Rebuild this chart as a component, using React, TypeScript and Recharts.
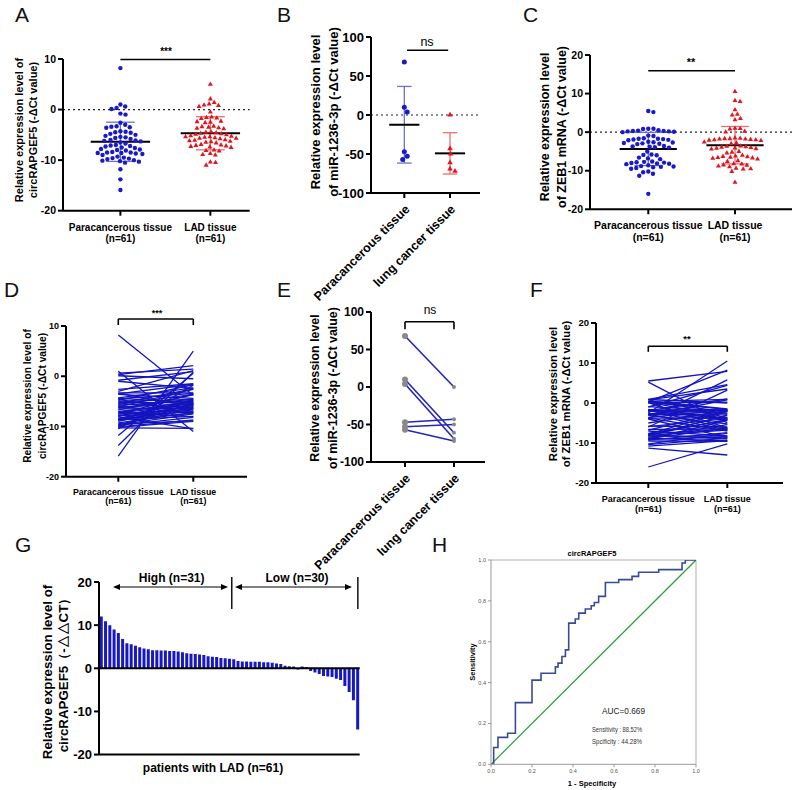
import React from 'react';
import { ComposedChart, BarChart, Bar, Scatter, Line, XAxis, YAxis, ReferenceLine } from 'recharts';

const FONT = '"Liberation Sans", Arial, Helvetica, sans-serif';

// ---------------- data ----------------
const groupLabels = ['Paracancerous tissue', 'LAD tissue'];
const groupN = ['(n=61)', '(n=61)'];
const mirLabels = ['Paracancerous tissue', 'lung cancer tissue'];

// circRAPGEF5 -ΔCt, paired (index i = same patient)
const circPara = [8.2, 1.0, 0.6, 0.3, 0.1, -0.8, -1.0, -2.6, -3.0, -3.3, -3.4, -3.5, -3.6, -4.3, -4.4, -4.5, -4.6, -4.8, -5.0, -5.2, -5.4, -5.5, -5.6, -5.8, -6.0, -6.1, -6.2, -6.3, -6.5, -6.7, -7.0, -7.1, -7.2, -7.3, -7.5, -7.6, -7.8, -7.9, -8.0, -8.1, -8.4, -8.5, -8.5, -8.6, -8.6, -8.7, -8.8, -9.0, -9.3, -9.5, -9.6, -9.7, -9.8, -10.0, -10.1, -10.2, -10.3, -10.5, -11.8, -13.8, -15.9];
const circLad = [-3.8, -11.0, 1.4, 2.1, -0.5, 0.9, -2.4, -1.5, 1.1, -3.3, -6.0, -1.6, -4.4, -2.3, -5.2, -3.4, -7.0, -1.7, -4.6, -5.3, -2.5, -6.2, -3.6, -4.8, -7.3, -2.6, -5.4, -4.5, -6.4, -3.7, -5.5, -8.1, -4.9, -5.7, -6.6, -3.5, -6.1, -7.1, -5.0, -10.5, -5.8, -6.9, -4.7, -7.4, -5.6, -8.0, -6.3, -5.7, -7.2, -8.9, -6.5, -7.5, -8.2, -5.4, -8.7, -9.0, -10.4, -1.8, 0.6, 0.8, 5.0];

// ZEB1 mRNA -ΔCt, paired
const zebPara = [5.5, 5.2, 0.9, 0.9, 0.8, 0.5, 0.4, 0.3, 0.3, 0.2, 0.2, 0.1, 0.0, -0.9, -1.0, -1.6, -1.7, -1.7, -1.8, -1.9, -2.0, -2.1, -2.5, -2.6, -2.7, -2.8, -2.9, -3.0, -3.1, -3.6, -3.7, -3.8, -3.9, -4.0, -5.0, -5.8, -5.9, -6.0, -6.6, -6.8, -7.0, -7.6, -7.7, -7.8, -7.9, -8.0, -8.1, -8.2, -8.3, -8.6, -8.8, -8.9, -9.0, -9.1, -9.3, -9.5, -10.2, -10.4, -10.8, -11.3, -16.0];
const zebLad = [7.9, -5.0, 4.6, 0.0, 3.5, -1.5, 0.9, -2.2, 8.2, -3.6, -1.6, -6.2, 0.2, -2.0, 4.4, -3.8, -1.7, -6.4, -2.6, 1.0, -4.0, -1.7, 10.5, -4.2, -1.8, -6.7, -2.8, 0.8, -5.2, -1.8, -7.0, -3.7, 5.8, -8.6, -1.9, -6.0, -3.9, 3.2, -6.5, -2.0, -8.2, -4.3, -6.6, -2.1, -9.0, -4.1, -6.8, -3.0, -8.3, -5.4, -9.5, -6.3, -4.4, -8.5, -7.4, -9.6, -7.6, -8.8, -9.4, -13.0, -10.2];

// miR-1236-3p -ΔCt, paired
const mirPara = [68, 10, 4, -47, -53, -57];
const mirLung = [0, -61, -69, -43, -50, -72];

// circRAPGEF5 -ΔΔCT waterfall
const gValues = [12.0, 10.9, 10.0, 9.0, 8.2, 6.8, 5.8, 5.6, 5.2, 4.9, 4.6, 4.4, 4.2, 4.2, 4.1, 4.1, 4.0, 4.0, 3.9, 3.7, 3.5, 3.4, 3.3, 3.2, 3.1, 2.8, 2.7, 2.6, 2.4, 2.3, 2.2, 2.1, 1.7, 1.6, 1.6, 1.5, 1.5, 1.5, 1.4, 1.4, 1.3, 1.1, 1.0, 0.6, 0.5, 0.4, -0.3, 0.4, 0.3, -0.6, -1.0, -1.3, -1.8, -1.9, -2.0, -2.4, -2.7, -4.1, -5.5, -7.4, -14.2];
const highCount = 31;
const highLabel = 'High (n=31)';
const lowLabel = 'Low (n=30)';

// ROC
const rocFpr = [0, 0.013, 0.034, 0.081, 0.119, 0.2, 0.244, 0.314, 0.327, 0.346, 0.363, 0.379, 0.411, 0.428, 0.46, 0.489, 0.504, 0.525, 0.558, 0.623, 0.688, 0.72, 0.818, 0.932, 0.948, 1.0];
const rocTpr = [0, 0.082, 0.132, 0.152, 0.302, 0.412, 0.446, 0.477, 0.495, 0.528, 0.56, 0.691, 0.711, 0.74, 0.76, 0.776, 0.792, 0.822, 0.89, 0.904, 0.92, 0.94, 0.953, 0.985, 1.0, 1.0];
const rocTicks = [0, 0.2, 0.4, 0.6, 0.8, 1.0];
const aucText = 'AUC=0.669';
const sensText = 'Sensitivity : 88.52%';
const specText = 'Spcificity : 44.28%';

const ticks30 = [-20, -10, 0, 10];
const ticks40 = [-20, -10, 0, 10, 20];
const ticks200 = [-100, -50, 0, 50, 100];

// ---------------- helpers ----------------
const mean = (a: number[]) => a.reduce((s, v) => s + v, 0) / a.length;
const sd = (a: number[]) => {
  const m = mean(a);
  return Math.sqrt(a.reduce((s, v) => s + (v - m) * (v - m), 0) / (a.length - 1));
};

function swarm(values: number[], center: number, pxX: number, pxY: number, d: number) {
  const sorted = [...values].sort((a, b) => b - a);
  const placed: { px: number; py: number }[] = [];
  const out: { x: number; y: number }[] = [];
  for (const v of sorted) {
    const py = v * pxY;
    const cands = [0];
    for (const p of placed) {
      const dy = Math.abs(p.py - py);
      if (dy < d) {
        const dx = Math.sqrt(d * d - dy * dy);
        cands.push(p.px + dx + 0.01, p.px - dx - 0.01);
      }
    }
    cands.sort((a, b) => Math.abs(a) - Math.abs(b));
    let chosen = 0;
    for (const c of cands) {
      let ok = true;
      for (const p of placed) {
        const dx = p.px - c;
        const dy = p.py - py;
        if (dx * dx + dy * dy < d * d - 0.02) { ok = false; break; }
      }
      if (ok) { chosen = c; break; }
    }
    placed.push({ px: chosen, py });
    out.push({ x: center + chosen / pxX, y: v });
  }
  return out;
}

type Frame = { x0: number; x1: number; y0: number; y1: number; xd: [number, number]; yd: [number, number]; padL: number; padT: number; padR: number; padB: number };

function box(f: Frame) {
  return {
    style: { position: 'absolute' as const, left: f.x0 - f.padL, top: f.y0 - f.padT },
    width: f.x1 - f.x0 + f.padL + f.padR,
    height: f.y1 - f.y0 + f.padT + f.padB,
    margin: { top: f.padT, right: f.padR, bottom: 0, left: 0 },
  };
}
const pxX = (f: Frame) => (f.x1 - f.x0) / (f.xd[1] - f.xd[0]);
const pxY = (f: Frame) => (f.y1 - f.y0) / (f.yd[1] - f.yd[0]);

const fA: Frame = { x0: 63.3, x1: 250, y0: 59.3, y1: 211, xd: [0.362, 2.437], yd: [-20, 10], padL: 50, padT: 20, padR: 5, padB: 40 };
const fB: Frame = { x0: 371, x1: 480, y0: 37.3, y1: 193.3, xd: [0.271, 2.656], yd: [-100, 100], padL: 80, padT: 20, padR: 5, padB: 115 };
const fC: Frame = { x0: 590, x1: 792, y0: 55, y1: 209.3, xd: [0.328, 2.657], yd: [-20, 20], padL: 40, padT: 10, padR: 3, padB: 40 };
const fD: Frame = { x0: 66, x1: 247, y0: 326, y1: 476.7, xd: [0.303, 2.716], yd: [-20, 10], padL: 40, padT: 20, padR: 5, padB: 35 };
const fE: Frame = { x0: 371, x1: 485, y0: 311.7, y1: 461.7, xd: [0.306, 2.633], yd: [-100, 100], padL: 80, padT: 10, padR: 5, padB: 115 };
const fF: Frame = { x0: 596, x1: 783, y0: 323.3, y1: 483.3, xd: [0.338, 2.705], yd: [-20, 20], padL: 40, padT: 10, padR: 5, padB: 35 };
const fG: Frame = { x0: 99.3, x1: 360, y0: 581.7, y1: 754.3, xd: [0, 1], yd: [-20, 20], padL: 40, padT: 10, padR: 5, padB: 12 };
const fH: Frame = { x0: 490.7, x1: 695.7, y0: 560, y1: 764.3, xd: [0, 1], yd: [0, 1], padL: 25, padT: 5, padR: 5, padB: 14 };

const BLUE = '#1a1ac8';
const RED = '#e0161e';
const BLUE_SD = '#7070d0';
const RED_SD = '#e87070';
const LINE_BLUE = '#1414bf';

const circleShape = (color: string, r: number) => (p: any) => <circle cx={p.cx} cy={p.cy} r={r} fill={color} />;
const triShape = (color: string, s: number) => (p: any) => {
  const h = s * 0.866;
  return <polygon points={`${p.cx},${p.cy - (2 * h) / 3} ${p.cx - s / 2},${p.cy + h / 3} ${p.cx + s / 2},${p.cy + h / 3}`} fill={color} />;
};

const twoLineTick = (labels: string[], sub: string[], fs: number, d1: number, gap: number) => (props: any) => {
  const { x, y, payload } = props;
  const i = Math.round(payload.value) - 1;
  return (
    <text x={x} y={y} textAnchor="middle" fontSize={fs} fontWeight="bold" fill="#000" fontFamily={FONT}>
      <tspan x={x} dy={d1}>{labels[i]}</tspan>
      <tspan x={x} dy={gap}>{sub[i]}</tspan>
    </text>
  );
};

const rotTick = (labels: string[], fs: number, dx: number, dy: number) => (props: any) => {
  const { x, y, payload } = props;
  const i = Math.round(payload.value) - 1;
  return (
    <text transform={`translate(${x + dx},${y + dy}) rotate(-45)`} textAnchor="end" fontSize={fs} fontWeight="bold" fill="#000" fontFamily={FONT}>
      {labels[i]}
    </text>
  );
};

const axisStyle = { stroke: '#000', strokeWidth: 2 };
const yTickStyle = (fs: number) => ({ fill: '#000', fontSize: fs, fontWeight: 700, fontFamily: FONT });

function dotPanel(
  f: Frame, left: number[], right: number[], yTicks: number[], xTick: any, yFs: number,
  leftShape: any, rightShape: any, d: number, sigY: number, sigX: [number, number], key: string,
) {
  const b = box(f);
  const sx = pxX(f);
  const sy = pxY(f);
  const p1 = swarm(left, 1, sx, sy, d);
  const p2 = swarm(right, 2, sx, sy, d);
  const m1 = mean(left), s1 = sd(left), m2 = mean(right), s2 = sd(right);
  return (
    <div style={b.style} key={key}>
      <ComposedChart width={b.width} height={b.height} margin={b.margin}>
        <XAxis type="number" dataKey="x" domain={f.xd} ticks={[1, 2]} allowDataOverflow interval={0} height={f.padB}
          tick={xTick} tickLine={axisStyle} axisLine={axisStyle} tickSize={5} />
        <YAxis type="number" dataKey="y" domain={f.yd} ticks={yTicks} allowDataOverflow interval={0} width={f.padL}
          tick={yTickStyle(yFs)} tickLine={axisStyle} axisLine={axisStyle} tickSize={5} />
        <ReferenceLine y={0} stroke="#222" strokeWidth={1.2} strokeDasharray="2 3" />
        <Scatter data={p1} shape={leftShape} isAnimationActive={false} />
        <Scatter data={p2} shape={rightShape} isAnimationActive={false} />
        <ReferenceLine segment={[{ x: 1, y: m1 - s1 }, { x: 1, y: m1 + s1 }]} stroke={BLUE_SD} strokeWidth={1.3} ifOverflow="visible" />
        <ReferenceLine segment={[{ x: 0.84, y: m1 + s1 }, { x: 1.16, y: m1 + s1 }]} stroke={BLUE_SD} strokeWidth={1.3} ifOverflow="visible" />
        <ReferenceLine segment={[{ x: 0.84, y: m1 - s1 }, { x: 1.16, y: m1 - s1 }]} stroke={BLUE_SD} strokeWidth={1.3} ifOverflow="visible" />
        <ReferenceLine segment={[{ x: 2, y: m2 - s2 }, { x: 2, y: m2 + s2 }]} stroke={RED_SD} strokeWidth={1.3} ifOverflow="visible" />
        <ReferenceLine segment={[{ x: 1.84, y: m2 + s2 }, { x: 2.16, y: m2 + s2 }]} stroke={RED_SD} strokeWidth={1.3} ifOverflow="visible" />
        <ReferenceLine segment={[{ x: 1.84, y: m2 - s2 }, { x: 2.16, y: m2 - s2 }]} stroke={RED_SD} strokeWidth={1.3} ifOverflow="visible" />
        <ReferenceLine segment={[{ x: 0.67, y: m1 }, { x: 1.33, y: m1 }]} stroke="#000" strokeWidth={2} ifOverflow="visible" />
        <ReferenceLine segment={[{ x: 1.67, y: m2 }, { x: 2.33, y: m2 }]} stroke="#000" strokeWidth={2} ifOverflow="visible" />
        <ReferenceLine segment={[{ x: sigX[0], y: sigY }, { x: sigX[1], y: sigY }]} stroke="#000" strokeWidth={1.6} ifOverflow="visible" />
      </ComposedChart>
    </div>
  );
}

function pairPanel(
  f: Frame, left: number[], right: number[], yTicks: number[], xTick: any, yFs: number,
  lineColor: string, lineW: number, dots: boolean, brY: number, brDrop: number, key: string,
) {
  const b = box(f);
  return (
    <div style={b.style} key={key}>
      <ComposedChart width={b.width} height={b.height} margin={b.margin}>
        <XAxis type="number" dataKey="x" domain={f.xd} ticks={[1, 2]} allowDataOverflow interval={0} height={f.padB}
          tick={xTick} tickLine={axisStyle} axisLine={axisStyle} tickSize={5} />
        <YAxis type="number" domain={f.yd} ticks={yTicks} allowDataOverflow interval={0} width={f.padL}
          tick={yTickStyle(yFs)} tickLine={axisStyle} axisLine={axisStyle} tickSize={5} />
        {left.map((v, i) => (
          <Line key={'l' + i} data={[{ x: 1, y: v }, { x: 2, y: right[i] }]} dataKey="y" stroke={lineColor} strokeWidth={lineW}
            isAnimationActive={false}
            dot={dots ? (p: any) => <circle key={'d' + i + '-' + p.index} cx={p.cx} cy={p.cy} r={p.index === 0 ? 3 : 2} fill="#8a8a8a" /> : false}
            activeDot={false} />
        ))}
        <ReferenceLine segment={[{ x: 1, y: brY }, { x: 2, y: brY }]} stroke="#000" strokeWidth={1.6} ifOverflow="visible" />
        <ReferenceLine segment={[{ x: 1, y: brY }, { x: 1, y: brY - brDrop }]} stroke="#000" strokeWidth={1.6} ifOverflow="visible" />
        <ReferenceLine segment={[{ x: 2, y: brY }, { x: 2, y: brY - brDrop }]} stroke="#000" strokeWidth={1.6} ifOverflow="visible" />
      </ComposedChart>
    </div>
  );
}

function RotLabel({ xs, cy, lines, fs }: { xs: number[]; cy: number; lines: string[]; fs: number }) {
  return (
    <>
      {lines.map((t, i) => (
        <text key={i} transform={`translate(${xs[i]},${cy}) rotate(-90)`} textAnchor="middle" dominantBaseline="central"
          fontSize={fs} fontWeight="bold" fill="#000">{t}</text>
      ))}
    </>
  );
}

function Arrow({ x1, x2, y }: { x1: number; x2: number; y: number }) {
  const L = 7, W = 3;
  return (
    <g>
      <line x1={x1 + 4} y1={y} x2={x2 - 4} y2={y} stroke="#000" strokeWidth={1.2} />
      <polygon points={`${x1},${y} ${x1 + L},${y - W} ${x1 + L},${y + W}`} fill="#000" />
      <polygon points={`${x2},${y} ${x2 - L},${y - W} ${x2 - L},${y + W}`} fill="#000" />
    </g>
  );
}

export default function App() {
  const bG = box(fG);
  const bH = box(fH);
  const gData = gValues.map((v, i) => ({ i: i + 1, v }));
  const band = (fG.x1 - fG.x0) / gValues.length;
  const divX = fG.x0 + highCount * band;
  const endX = fG.x0 + (gValues.length - 0.5) * band;
  const rocData = rocFpr.map((x, i) => ({ x, y: rocTpr[i] }));
  const hTick = { fill: '#555', fontSize: 5.5, fontFamily: FONT };
  const hAxis = { stroke: '#9a9a9a', strokeWidth: 1 };

  return (
    <div style={{ position: 'absolute', left: 0, top: 0, width: 796, height: 790, background: '#fff', fontFamily: FONT, overflow: 'hidden' }}>
      {dotPanel(fA, circPara, circLad, ticks30, twoLineTick(groupLabels, groupN, 10, 13, 11), 10.5,
        circleShape(BLUE, 2.2), triShape(RED, 5), 5.2, 9.9, [1, 2], 'A')}
      {dotPanel(fB, mirPara, mirLung, ticks200, rotTick(mirLabels, 12.5, 6, 10), 13,
        circleShape(BLUE, 2.5), triShape(RED, 5.5), 5.5, 83, [1.06, 1.96], 'B')}
      {dotPanel(fC, zebPara, zebLad, ticks40, twoLineTick(groupLabels, groupN, 10.5, 13, 11.5), 10.5,
        circleShape(BLUE, 2.2), triShape(RED, 5), 5.2, 15.9, [1, 2], 'C')}
      {pairPanel(fD, circPara, circLad, ticks30, twoLineTick(groupLabels, groupN, 8.8, 11, 9.5), 9,
        LINE_BLUE, 1.3, false, 11.4, 1.2, 'D')}
      {pairPanel(fE, mirPara, mirLung, ticks200, rotTick(mirLabels, 12.5, 6, 10), 12,
        '#2525b8', 1.6, true, 87, 10, 'E')}
      {pairPanel(fF, zebPara, zebLad, ticks40, twoLineTick(groupLabels, groupN, 9, 12, 9.5), 9.5,
        LINE_BLUE, 1.3, false, 14.2, 1.4, 'F')}

      <div style={bG.style}>
        <BarChart width={bG.width} height={bG.height} margin={bG.margin} data={gData} barCategoryGap="18%">
          <XAxis dataKey="i" type="category" height={fG.padB} tick={false} tickLine={false} axisLine={axisStyle} />
          <YAxis type="number" domain={fG.yd} ticks={ticks40} allowDataOverflow interval={0} width={fG.padL}
            tick={yTickStyle(13)} tickLine={axisStyle} axisLine={axisStyle} tickSize={5} />
          <Bar dataKey="v" fill="#1717c4" isAnimationActive={false} />
          <ReferenceLine y={0} stroke="#000" strokeWidth={2} />
        </BarChart>
      </div>

      <div style={bH.style}>
        <ComposedChart width={bH.width} height={bH.height} margin={bH.margin}>
          <XAxis type="number" dataKey="x" domain={[0, 1]} ticks={rocTicks} allowDataOverflow interval={0} height={fH.padB}
            tick={hTick} tickFormatter={(v: number) => v.toFixed(1)} tickLine={hAxis} axisLine={hAxis} tickSize={3} />
          <YAxis type="number" domain={[0, 1]} ticks={rocTicks} allowDataOverflow interval={0} width={fH.padL}
            tick={hTick} tickFormatter={(v: number) => v.toFixed(1)} tickLine={hAxis} axisLine={hAxis} tickSize={3} />
          <ReferenceLine y={1} stroke="#b0b0b0" strokeWidth={1} />
          <ReferenceLine x={1} stroke="#b0b0b0" strokeWidth={1} />
          <Line data={[{ x: 0, y: 0 }, { x: 1, y: 1 }]} dataKey="y" stroke="#2e9e3e" strokeWidth={1.3} dot={false} activeDot={false} isAnimationActive={false} />
          <Line data={rocData} dataKey="y" type="stepAfter" stroke="#3b4a94" strokeWidth={1.6} dot={false} activeDot={false} isAnimationActive={false} />
        </ComposedChart>
      </div>

      <svg width={796} height={790} style={{ position: 'absolute', left: 0, top: 0, pointerEvents: 'none' }} fontFamily={FONT}>
        <g fontSize={21} fill="#111">
          <text x={15} y={22}>A</text>
          <text x={277} y={22}>B</text>
          <text x={523} y={22}>C</text>
          <text x={4} y={297}>D</text>
          <text x={277} y={297}>E</text>
          <text x={530} y={297}>F</text>
          <text x={15} y={552}>G</text>
          <text x={432} y={552}>H</text>
        </g>

        <RotLabel xs={[19, 33]} cy={130} lines={['Relative expression level of', 'circRAPGEF5 (-ΔCt value)']} fs={11} />
        <RotLabel xs={[315, 333]} cy={112} lines={['Relative expression level', 'of miR-1236-3p (-ΔCt value)']} fs={13} />
        <RotLabel xs={[545, 562]} cy={127} lines={['Relative expression level', 'of ZEB1 mRNA (-ΔCt value)']} fs={12.5} />
        <RotLabel xs={[27, 42]} cy={396} lines={['Relative expression level of', 'circRAPGEF5 (-ΔCt value)']} fs={10.2} />
        <RotLabel xs={[315, 333]} cy={388} lines={['Relative expression level', 'of miR-1236-3p (-ΔCt value)']} fs={12.4} />
        <RotLabel xs={[553, 566]} cy={394} lines={['Relative expression level', 'of ZEB1 mRNA (-ΔCt value)']} fs={11.3} />
        <RotLabel xs={[47, 63]} cy={672} lines={['Relative expression level of', 'circRAPGEF5（-△△CT）']} fs={13.3} />

        <g fontWeight="bold" textAnchor="middle" fill="#000">
          <text x={166} y={55} fontSize={10}>***</text>
          <text x={691} y={66} fontSize={11}>**</text>
          <text x={157} y={316} fontSize={9}>***</text>
          <text x={687} y={342} fontSize={9.5}>**</text>
        </g>
        <text x={427} y={46} fontSize={12.5} textAnchor="middle" fill="#000">ns</text>
        <text x={430} y={314} fontSize={12} textAnchor="middle" fill="#000">ns</text>

        <text x={171.7} y={582} fontSize={12} fontWeight="bold" textAnchor="middle">{highLabel}</text>
        <text x={297} y={582} fontSize={12} fontWeight="bold" textAnchor="middle">{lowLabel}</text>
        <Arrow x1={113} x2={228} y={587} />
        <Arrow x1={235} x2={352} y={587} />
        <line x1={divX} y1={577} x2={divX} y2={609} stroke="#000" strokeWidth={1.4} />
        <line x1={endX} y1={577} x2={endX} y2={609} stroke="#000" strokeWidth={1.4} />
        <text x={213} y={772} fontSize={12} fontWeight="bold" textAnchor="middle">patients with LAD (n=61)</text>

        <text x={592} y={556} fontSize={7.5} fontWeight="bold" textAnchor="middle">circRAPGEF5</text>
        <text x={592} y={786} fontSize={7.5} fontWeight="bold" textAnchor="middle">1 - Specificity</text>
        <text transform="translate(472,662) rotate(-90)" fontSize={7.5} fontWeight="bold" textAnchor="middle" dominantBaseline="central">Sensitivity</text>
        <text x={602} y={714} fontSize={9} textLength={43} lengthAdjust="spacingAndGlyphs" fill="#222">{aucText}</text>
        <text x={592} y={732} fontSize={6.5} textLength={50} lengthAdjust="spacingAndGlyphs" fill="#333">{sensText}</text>
        <text x={592} y={743.5} fontSize={6.5} textLength={50} lengthAdjust="spacingAndGlyphs" fill="#333">{specText}</text>
      </svg>
    </div>
  );
}
